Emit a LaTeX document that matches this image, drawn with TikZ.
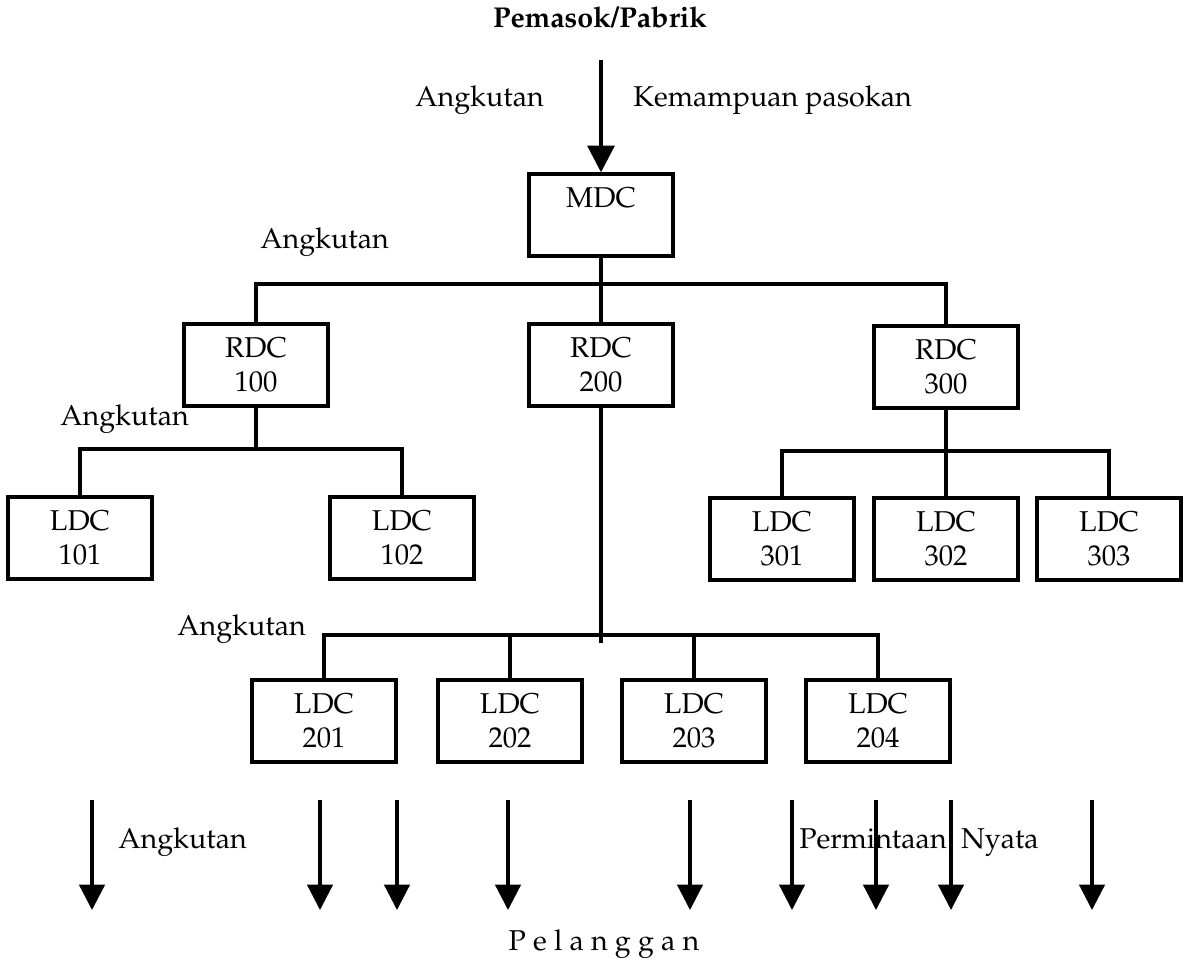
\documentclass[tikz,border=0pt]{standalone}
\usepackage[T1]{fontenc}
\usepackage{mathpazo}
\usetikzlibrary{arrows.meta}
\begin{document}
\begin{tikzpicture}[x=0.75pt,y=-0.75pt,
  txt/.style={font=\fontsize{21.5}{26}\selectfont},
  dc/.style={txt, draw, line width=3pt, minimum width=108pt, minimum height=61pt,
             inner sep=0pt, align=center},
  link/.style={line width=3pt},
  flow/.style={line width=2.4pt, -{Triangle[length=19pt,width=19pt]}},
  lbl/.style={txt, anchor=base west, inner sep=0pt}]
\useasboundingbox (0,0) rectangle (1187,965);

% distribution centres
\node[dc] (mdc)    at (601,215) {MDC\\[0pt]\phantom{0}};
\node[dc] (rdc100) at (256,365) {RDC\\100};
\node[dc] (rdc200) at (601,365) {RDC\\200};
\node[dc] (rdc300) at (946,367) {RDC\\300};
\node[dc] (ldc101) at (80,538)   {LDC\\101};
\node[dc] (ldc102) at (402,538)  {LDC\\102};
\node[dc] (ldc301) at (782,539)  {LDC\\301};
\node[dc] (ldc302) at (946,539)  {LDC\\302};
\node[dc] (ldc303) at (1109,539) {LDC\\303};
\node[dc] (ldc201) at (324,721)  {LDC\\201};
\node[dc] (ldc202) at (510,721)  {LDC\\202};
\node[dc] (ldc203) at (694,721)  {LDC\\203};
\node[dc] (ldc204) at (878,721)  {LDC\\204};

% supplier and its flow into the MDC
\node[anchor=base, inner sep=0pt, font=\fontsize{21.5}{26}\selectfont\bfseries]
  (supplier) at (600,27) {Pemasok/Pabrik};
\coordinate (supply) at (601,60);
\draw[line width=3pt, -{Triangle[length=20pt,width=20pt]}] (supply) -- (mdc.north);

% MDC to RDCs
\draw[link] (mdc.south) -- (rdc200.north);
\draw[link] (rdc100.north) -- ++(0,-38) -| (rdc300.north);

% RDC 100 to its LDCs
\draw[link] (rdc100.south) -- ++(0,43);
\draw[link] (ldc101.north) -- ++(0,-46) -| (ldc102.north);

% RDC 300 to its LDCs
\draw[link] (rdc300.south) -- (ldc302.north);
\draw[link] (ldc301.north) -- ++(0,-45) -| (ldc303.north);

% RDC 200 to its LDCs
\draw[link] (rdc200.south) -- ++(0,235);
\draw[link] (ldc201.north) -- ++(0,-43) -| (ldc204.north);
\draw[link] (ldc202.north) -- ++(0,-43);
\draw[link] (ldc203.north) -- ++(0,-43);

% deliveries to customers
\foreach \x [count=\i] in {92,320,397,508,690,792,876,951,1092} {
  \coordinate (dem\i-top) at (\x,800);
  \coordinate (dem\i-tip) at (\x,910);
  \draw[flow] (dem\i-top) -- (dem\i-tip);
}

% labels
\node[lbl] (t1) at (415,106) {Angkutan};
\node[lbl] (t2) at (633,106) {Kemampuan pasokan};
\node[lbl] (t3) at (260,248) {Angkutan};
\node[lbl] (t4) at (60,425)  {Angkutan};
\node[lbl] (t5) at (177,635) {Angkutan};
\node[lbl] (t6) at (118,848) {Angkutan};
\node[lbl] (t7) at (799,848) {Permintaan~~Nyata};
\node[txt, anchor=base, inner sep=0pt] (customers) at (604,950) {P e l a n g g a n};
\end{tikzpicture}
\end{document}
